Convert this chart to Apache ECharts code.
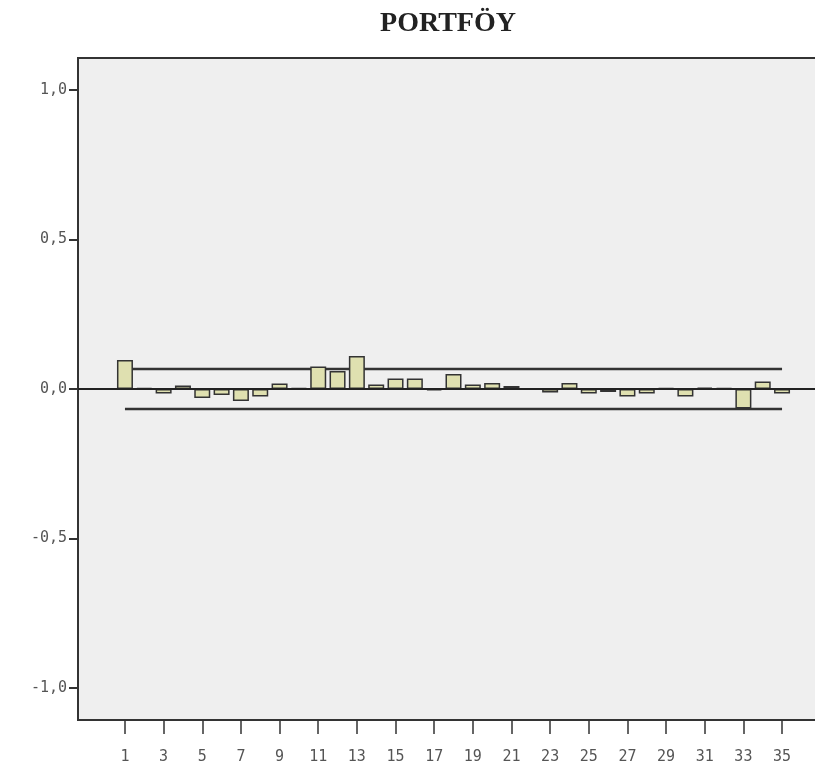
<!DOCTYPE html>
<html>
<head>
<meta charset="utf-8">
<script src="https://cdn.jsdelivr.net/npm/echarts@6/dist/echarts.min.js"></script>
<style>
  html, body { margin: 0; padding: 0; background: #fff; overflow: hidden; }
  #main { width: 829px; height: 767px; }
</style>
</head>
<body>
<div id="main"></div>
<script>
// gecikmeler (lag) ve ACF değerleri
var lags = [1,2,3,4,5,6,7,8,9,10,11,12,13,14,15,16,17,18,19,20,21,22,23,24,25,26,27,28,29,30,31,32,33,34,35];
var acf = [0.097, 0.004, -0.015, 0.012, -0.030, -0.020, -0.040, -0.025, 0.018, 0.003,
           0.075, 0.060, 0.110, 0.015, 0.035, 0.035, -0.005, 0.050, 0.015, 0.020,
           0.010, 0.002, -0.012, 0.020, -0.015, -0.010, -0.025, -0.015, 0.003, -0.025,
           0.005, 0.003, -0.065, 0.025, -0.015];
var upperLimit = 0.067;   // güven sınırı üst
var lowerLimit = -0.067;  // güven sınırı alt
var yTicks = [-1, -0.5, 0, 0.5, 1];
var xTicks = [1,3,5,7,9,11,13,15,17,19,21,23,25,27,29,31,33,35];

var chart = echarts.init(document.getElementById('main'));

var barData = lags.map(function (l, i) { return [l, acf[i]]; });
var firstLag = lags[0], lastLag = lags[lags.length - 1];

var option = {
    animation: false,
    title: {
        text: 'PORTFÖY',
        left: 443,
        textAlign: 'center',
        top: 5,
        textStyle: { fontFamily: 'Liberation Serif', fontSize: 28, fontWeight: 'bold', color: '#222' }
    },
    grid: {
        left: 78, top: 58, right: 0, bottom: 47,
        show: true,
        backgroundColor: '#efefef',
        borderColor: '#333',
        borderWidth: 2
    },
    xAxis: {
        type: 'value',
        min: -1.43,
        max: 37.43,
        splitLine: { show: false },
        axisLine: { show: true, onZero: false, lineStyle: { color: '#333', width: 2 } },
        axisTick: { show: true, customValues: xTicks, length: 14, lineStyle: { color: '#333', width: 1.5 } },
        axisLabel: {
            customValues: xTicks,
            margin: 30,
            fontFamily: 'DejaVu Sans Mono',
            fontSize: 15,
            color: '#555'
        }
    },
    yAxis: {
        type: 'value',
        min: -1.107,
        max: 1.107,
        splitLine: { show: false },
        axisLine: { show: true, onZero: false, lineStyle: { color: '#333', width: 2 } },
        axisTick: { show: true, customValues: yTicks, length: 9, lineStyle: { color: '#333', width: 2 } },
        axisLabel: {
            customValues: yTicks,
            margin: 11,
            fontFamily: 'DejaVu Sans Mono',
            fontSize: 15,
            color: '#555',
            formatter: function (v) { return v.toFixed(1).replace('.', ','); }
        }
    },
    series: [
        {
            type: 'bar',
            data: barData,
            barWidth: 16,
            itemStyle: { color: '#dfe0b0', borderColor: '#333', borderWidth: 1.5 },
            markLine: {
                silent: true,
                symbol: 'none',
                label: { show: false },
                lineStyle: { color: '#222', width: 2, type: 'solid' },
                data: [{ yAxis: 0 }]
            },
            z: 3
        },
        {
            type: 'line',
            data: [[firstLag, upperLimit], [lastLag, upperLimit]],
            symbol: 'none',
            lineStyle: { color: '#333', width: 2.5 },
            z: 2
        },
        {
            type: 'line',
            data: [[firstLag, lowerLimit], [lastLag, lowerLimit]],
            symbol: 'none',
            lineStyle: { color: '#333', width: 2.5 },
            z: 2
        }
    ]
};
chart.setOption(option);
</script>
</body>
</html>
